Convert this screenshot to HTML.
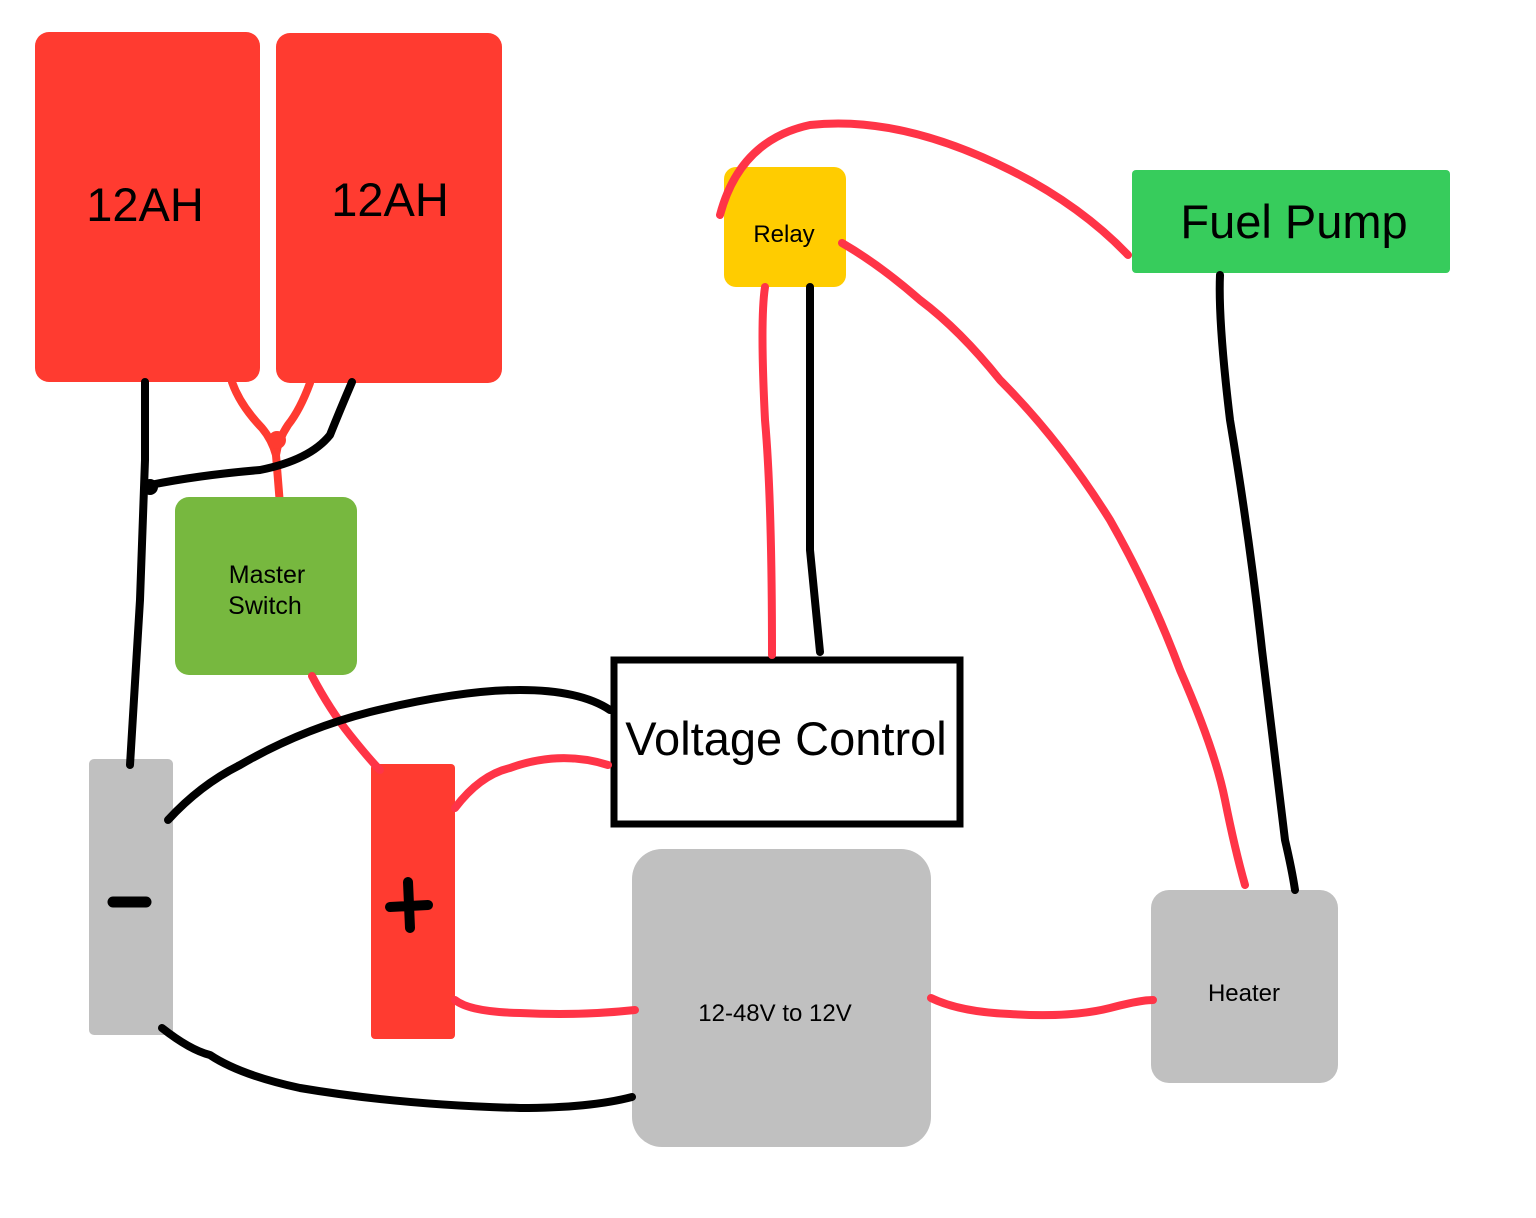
<!DOCTYPE html>
<html><head><style>
html,body{margin:0;padding:0;background:#fff;width:1536px;height:1218px;overflow:hidden}
svg text{font-family:"Liberation Sans",sans-serif;fill:#000}
</style></head><body>
<svg width="1536" height="1218" viewBox="0 0 1536 1218" xmlns="http://www.w3.org/2000/svg">
<g fill="none" stroke-linecap="round" stroke-linejoin="round" stroke-width="8">
<path d="M232,382 Q240,405 262,428 Q272,440 276,455 L280,505" stroke="#FF3B30"/>
<path d="M310,383 Q300,410 288,425 Q278,440 276,455" stroke="#FF3B30"/>
</g>
<rect x="35" y="32" width="225" height="350" rx="14" fill="#FF3B30"/>
<rect x="276" y="33" width="226" height="350" rx="14" fill="#FF3B30"/>
<circle cx="277" cy="440" r="9" fill="#FF3B30"/>
<rect x="175" y="497" width="182" height="178" rx="14" fill="#77B83F"/>
<rect x="89" y="759" width="84" height="276" rx="5" fill="#C0C0C0"/>
<rect x="371" y="764" width="84" height="275" rx="4" fill="#FF3B30"/>
<rect x="632" y="849" width="299" height="298" rx="30" fill="#C0C0C0"/>
<rect x="1151" y="890" width="187" height="193" rx="18" fill="#C0C0C0"/>
<rect x="724" y="167" width="122" height="120" rx="12" fill="#FFCC00"/>
<rect x="1132" y="170" width="318" height="103" rx="4" fill="#37CC5C"/>
<rect x="614" y="660" width="346" height="164" fill="#fff" stroke="#000" stroke-width="7"/>
<g fill="none" stroke-linecap="round" stroke-linejoin="round" stroke-width="8">
<path d="M145,382 L145,460 L140,600 L130,765" stroke="#000"/>
<path d="M150,485 Q200,475 260,470 Q310,460 330,435 Q340,410 352,382" stroke="#000"/>
<circle cx="150" cy="487" r="8" fill="#000" stroke="none"/>
<path d="M312,676 Q330,710 350,735 Q370,760 380,770" stroke="#FF3447"/>
<path d="M168,820 Q200,785 240,765 Q300,730 370,712 Q460,690 520,690 Q580,690 610,710" stroke="#000"/>
<path d="M455,808 Q480,775 510,768 Q560,750 608,765" stroke="#FF3447"/>
<path d="M455,1000 Q470,1012 520,1013 Q580,1016 635,1010" stroke="#FF3447"/>
<path d="M162,1028 Q190,1050 210,1055 Q240,1075 300,1088 Q400,1105 520,1108 Q590,1108 632,1097" stroke="#000"/>
<path d="M931,998 Q960,1012 1010,1014 Q1070,1018 1110,1008 Q1140,1000 1153,1000" stroke="#FF3447"/>
<path d="M765,287 Q760,320 765,420 Q772,500 772,655" stroke="#FF3447"/>
<path d="M810,287 L810,550 L820,652" stroke="#000"/>
<path d="M720,215 Q740,140 810,125 Q900,115 1010,170 Q1080,205 1128,255" stroke="#FF3447"/>
<path d="M842,243 Q880,265 920,300 Q960,330 1000,380 Q1060,440 1110,520 Q1150,590 1180,670 Q1215,750 1225,800 Q1235,850 1245,885" stroke="#FF3447"/>
<path d="M1220,275 Q1218,320 1230,420 Q1250,540 1262,650 Q1275,760 1285,840 Q1292,870 1295,890" stroke="#000"/>
<path d="M113,902 L146,902" stroke="#000" stroke-width="11"/>
<path d="M390,907 L428,905 M408,882 L410,928" stroke="#000" stroke-width="10"/>
</g>
<text x="145" y="221" font-size="47" text-anchor="middle">12AH</text>
<text x="390" y="216" font-size="47" text-anchor="middle">12AH</text>
<text x="267" y="583" font-size="25" text-anchor="middle">Master</text>
<text x="265" y="614" font-size="25" text-anchor="middle">Switch</text>
<text x="786" y="755" font-size="47" text-anchor="middle">Voltage Control</text>
<text x="775" y="1021" font-size="24" text-anchor="middle">12-48V to 12V</text>
<text x="1244" y="1001" font-size="24" text-anchor="middle">Heater</text>
<text x="784" y="242" font-size="24" text-anchor="middle">Relay</text>
<text x="1294" y="238" font-size="47" text-anchor="middle">Fuel Pump</text>
</svg>
</body></html>
